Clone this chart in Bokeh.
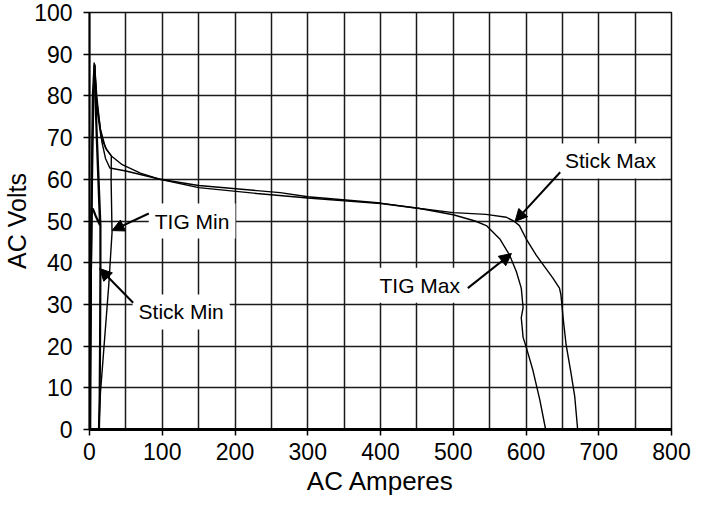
from bokeh.plotting import figure
from bokeh.models import ColumnDataSource, Arrow, NormalHead, SingleIntervalTicker, Range1d
from bokeh.core.properties import value
from bokeh.embed import file_html
from bokeh.resources import INLINE

# ---- data ----
stick_max_amps = [0, 2, 4, 6.5, 9, 15, 22, 30, 45, 70, 97, 150, 262, 300, 400, 454, 500, 545, 573, 584, 591, 600, 614, 637, 646, 648, 651, 655, 662, 667, 671]
stick_max_volts = [0, 50, 80, 88, 80, 72, 67.5, 65.6, 63.5, 61.5, 60, 58.5, 56.8, 55.8, 54.3, 53, 52, 51.6, 50.9, 49.9, 48.9, 45.8, 41.8, 36.3, 33.9, 32.3, 26.8, 20.5, 13.4, 7.9, 0]

tig_max_amps = [0, 2, 4, 7, 10, 13, 17, 22, 28, 50, 97, 150, 230, 300, 400, 454, 500, 530, 545.5, 564, 577.5, 586.7, 593.5, 596, 593.5, 596, 600.4, 609.5, 619, 627]
tig_max_volts = [0, 40, 70, 87.5, 80, 75, 69, 65, 62.7, 62, 60, 58, 56.6, 55.5, 54.2, 53, 51.5, 50, 48.9, 45.7, 41.8, 37.9, 33.9, 29.2, 26.8, 22.1, 19.7, 14.2, 7.1, 0]

stick_min_amps = [1, 2, 3, 5, 9, 14.5, 10, 7, 9, 12, 15, 15, 14.5, 14, 13]
stick_min_volts = [0, 40, 53, 52.8, 51, 49, 70, 87.5, 75, 62, 49, 38, 20, 8, 0]

tig_min_amps = [0.5, 2, 4, 6, 8, 11, 16, 24, 30, 29.7, 30.5, 31, 26.5, 20, 15, 12.8]
tig_min_volts = [0, 30, 60, 82, 84, 76, 70, 67, 65.6, 60, 52, 47.3, 34.7, 20, 8.7, 0]

x_ticks = [0, 100, 200, 300, 400, 500, 600, 700, 800]
y_ticks = [0, 10, 20, 30, 40, 50, 60, 70, 80, 90, 100]

label_text = ["TIG Min", "Stick Min", "TIG Max", "Stick Max"]
label_amps = [141, 126, 454, 716]
label_volts = [50, 28.2, 34.6, 64.4]
arrow_from_amps = [81.5, 60, 520, 647]
arrow_from_volts = [51.8, 30.4, 33.9, 61.7]
arrow_to_amps = [31, 14, 580, 585]
arrow_to_volts = [47.7, 38.6, 42.2, 49.9]

FONT = "Liberation Sans"

p = figure(width=692, height=498, output_backend="svg", toolbar_location=None,
           x_range=Range1d(0, 800), y_range=Range1d(0, 100),
           min_border_top=12, min_border_right=21, min_border_left=0, min_border_bottom=0)
p.background_fill_color = "white"
p.border_fill_color = "white"
p.outline_line_color = "#111111"
p.outline_line_width = 1.5

# grid
p.xgrid.ticker = SingleIntervalTicker(interval=50)
p.ygrid.ticker = SingleIntervalTicker(interval=10)
for g in (p.xgrid, p.ygrid):
    g.grid_line_color = "#1a1a1a"
    g.grid_line_width = 1.5
    g.grid_line_alpha = 1.0

# axes
p.xaxis.ticker = x_ticks
p.yaxis.ticker = y_ticks
p.xaxis.axis_label = "AC Amperes"
p.yaxis.axis_label = "AC Volts"
for ax in (p.xaxis, p.yaxis):
    ax.axis_label_text_font = FONT
    ax.axis_label_text_font_style = "normal"
    ax.axis_label_text_color = "black"
    ax.major_label_text_font = FONT
    ax.major_label_text_color = "black"
    ax.major_tick_out = 6
    ax.major_tick_in = 0
    ax.minor_tick_out = 0
    ax.minor_tick_in = 0
    ax.major_tick_line_color = "black"
    ax.major_tick_line_width = 1.5
    ax.axis_line_color = "black"
p.xaxis.axis_label_text_font_size = "26px"
p.yaxis.axis_label_text_font_size = "25px"
p.xaxis.major_label_text_font_size = "23px"
p.yaxis.major_label_text_font_size = "23px"
p.xaxis.axis_line_width = 3
p.yaxis.axis_line_width = 2
p.xaxis.major_label_standoff = 7
p.xaxis.axis_label_standoff = 3
p.yaxis.major_label_standoff = 11
p.yaxis.axis_label_standoff = 0

# curves
p.line(stick_max_amps, stick_max_volts, line_color="black", line_width=1.4)
p.line(tig_max_amps, tig_max_volts, line_color="black", line_width=1.4)
p.line(stick_min_amps, stick_min_volts, line_color="black", line_width=2.2)
p.line(tig_min_amps, tig_min_volts, line_color="black", line_width=1.4)

# labels with white boxes
lab_src = ColumnDataSource(dict(x=label_amps, y=label_volts, text=label_text))
p.text(x="x", y="y", text="text", source=lab_src,
       text_font=value(FONT), text_font_size="21px", text_color="black",
       text_align="center", text_baseline="middle",
       background_fill_color="white", padding=6)

# arrows
arr_src = ColumnDataSource(dict(x0=arrow_from_amps, y0=arrow_from_volts,
                                x1=arrow_to_amps, y1=arrow_to_volts))
p.add_layout(Arrow(x_start="x0", y_start="y0", x_end="x1", y_end="y1", source=arr_src,
                   line_color="black", line_width=2,
                   end=NormalHead(size=12, fill_color="black", line_color="black", line_width=1)))

open("out.html", "w").write(file_html(p, INLINE))
